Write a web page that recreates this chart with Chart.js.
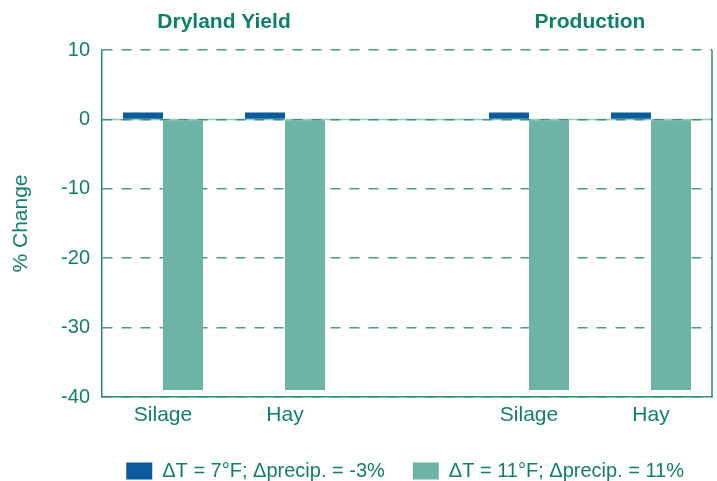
<!DOCTYPE html>
<html>
<head>
<meta charset="utf-8">
<script src="https://cdn.jsdelivr.net/npm/chart.js@4.4.1/dist/chart.umd.min.js"></script>
<style>
  html, body { margin: 0; padding: 0; background: #fff; }
  #wrap { width: 717px; height: 481px; }
</style>
</head>
<body>
<div id="wrap"><canvas id="chart"></canvas></div>
<script>
// data
const categories = ['Silage', 'Hay', '', 'Silage', 'Hay'];
const groupTitles = ['Dryland Yield', 'Production'];
const seriesNames = ['\u0394T = 7\u00b0F; \u0394precip. = -3%', '\u0394T = 11\u00b0F; \u0394precip. = 11%'];
const lowWarming = [1, 1, null, 1, 1];
const highWarming = [-39, -39, null, -39, -39];
const yTicks = [-40, -30, -20, -10, 0, 10];

const green = '#0f7f6a';
const lineGreen = '#2b8a76';
const font = 'Liberation Sans, Arial, Helvetica, sans-serif';

// group titles, right border and solid zero line
const extras = {
    id: 'extras',
    beforeDatasetsDraw(chart) {
        const ctx = chart.ctx;
        const y = chart.scales.y.getPixelForValue(0);
        const a = chart.chartArea;
        ctx.save();
        ctx.strokeStyle = 'rgba(43,138,118,0.45)';
        ctx.lineWidth = 1.5;
        ctx.beginPath();
        ctx.moveTo(a.left, y);
        ctx.lineTo(a.right, y);
        ctx.stroke();
        ctx.restore();
    },
    afterDraw(chart) {
        const ctx = chart.ctx;
        const x = chart.scales.x;
        const a = chart.chartArea;
        ctx.save();
        ctx.strokeStyle = lineGreen;
        ctx.lineWidth = 1.5;
        ctx.beginPath();
        ctx.moveTo(a.right, a.top);
        ctx.lineTo(a.right, a.bottom);
        ctx.stroke();

        ctx.fillStyle = green;
        ctx.font = 'bold 21px ' + font;
        ctx.textAlign = 'center';
        ctx.textBaseline = 'middle';
        const c1 = (x.getPixelForValue(0) + x.getPixelForValue(1)) / 2;
        const c2 = (x.getPixelForValue(3) + x.getPixelForValue(4)) / 2;
        ctx.fillText(groupTitles[0], c1, 22);
        ctx.fillText(groupTitles[1], c2, 22);
        ctx.restore();
    }
};

new Chart(document.getElementById('chart'), {
    type: 'bar',
    data: {
        labels: categories,
        datasets: [
            { label: seriesNames[0], data: lowWarming, backgroundColor: '#0b5b9e' },
            { label: seriesNames[1], data: highWarming, backgroundColor: '#6db3a6' }
        ]
    },
    plugins: [extras],
    options: {
        responsive: true,
        maintainAspectRatio: false,
        animation: false,
        categoryPercentage: 0.656,
        barPercentage: 1,
        layout: { padding: { top: 50, right: 5, bottom: -10, left: 0 } },
        plugins: {
            tooltip: { enabled: false },
            legend: {
                position: 'bottom',
                align: 'end',
                labels: {
                    color: green,
                    font: { family: font, size: 20 },
                    boxWidth: 26,
                    boxHeight: 17,
                    padding: 28
                }
            }
        },
        scales: {
            x: {
                afterFit(scale) { scale.height = 36; },
                grid: { display: false, drawTicks: false },
                border: { display: true, color: lineGreen, width: 1.5 },
                ticks: { color: green, font: { family: font, size: 21 }, padding: 6 }
            },
            y: {
                min: -40,
                max: 10,
                afterBuildTicks(scale) { scale.ticks = yTicks.map(v => ({ value: v })); },
                afterFit(scale) { scale.width = 102; },
                grid: { color: 'rgba(43,138,118,0.85)', lineWidth: 1.5, drawTicks: false },
                border: { display: true, color: lineGreen, width: 1.5, dash: [10, 9] },
                ticks: { color: green, font: { family: font, size: 20 }, padding: 12 },
                title: {
                    display: true,
                    text: '% Change',
                    color: green,
                    font: { family: font, size: 21 },
                    padding: { top: 9, bottom: 0 }
                }
            }
        }
    }
});
</script>
</body>
</html>
